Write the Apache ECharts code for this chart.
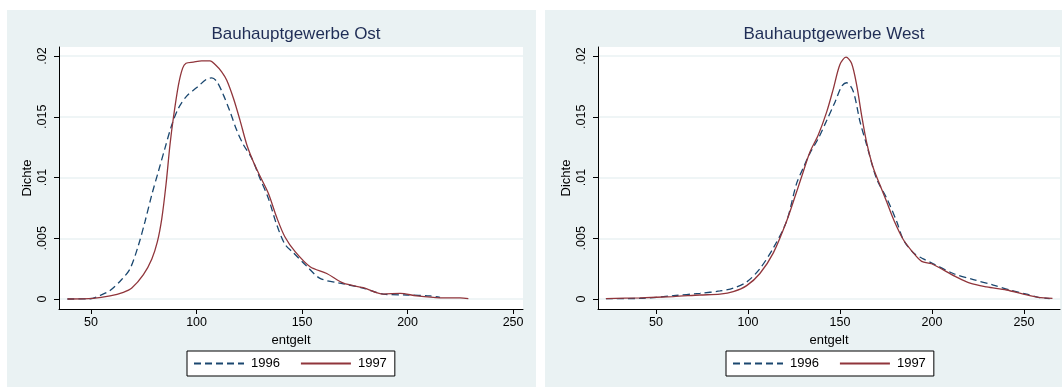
<!DOCTYPE html>
<html><head><meta charset="utf-8">
<script src="https://cdn.jsdelivr.net/npm/echarts@6/dist/echarts.min.js"></script>
<style>html,body{margin:0;padding:0;background:#fff}#c{width:1062px;height:387px}</style>
</head><body><div id="c"></div>
<script>
const titles = ['Bauhauptgewerbe Ost', 'Bauhauptgewerbe West'];
const seriesNames = ['1996', '1997'];
const xTicks = [50, 100, 150, 200, 250];
const yTicks = [0, 0.005, 0.01, 0.015, 0.02];
const yTickLabels = ['0', '.005', '.01', '.015', '.02'];
const xName = 'entgelt';
const yName = 'Dichte';

// Ost 1996
const ost96X = [38.8, 49.5, 54.3, 59, 64.5, 68.5, 72.4, 75.6, 78.8, 81.9, 85, 88.2, 91.4, 95.3, 100.1, 104.8, 107.2, 109.6, 112.7, 115.9, 119, 122.2, 126.1, 130.1, 134, 138, 141.9, 145.9, 152.2, 158.5, 168, 179, 188.5, 199.6, 210.7, 215.4];
const ost96Y = [0, 0.00002, 0.0003, 0.0007, 0.0016, 0.0025, 0.0044, 0.0064, 0.0086, 0.0105, 0.0124, 0.0143, 0.0157, 0.0167, 0.0174, 0.0181, 0.0182, 0.0179, 0.0168, 0.0154, 0.0139, 0.0127, 0.0116, 0.0099, 0.0083, 0.0061, 0.0045, 0.0038, 0.0027, 0.0017, 0.0013, 0.0009, 0.0004, 0.00033, 0.00025, 0.00014];
// Ost 1997
const ost97X = [38.8, 51, 59, 65.3, 69.3, 74.8, 78.8, 81.4, 83.5, 85.5, 87.4, 89, 91.4, 93.4, 95, 98.5, 102.4, 106.4, 108.8, 111.9, 114.3, 117.5, 120.6, 123.8, 126.9, 130.1, 134, 138, 141.9, 146.7, 153.8, 161.7, 169.6, 179, 188.5, 196.5, 204.3, 215.4, 224.9, 228.8];
const ost97Y = [0, 0.00005, 0.00025, 0.00055, 0.0009, 0.002, 0.0033, 0.0047, 0.0066, 0.0094, 0.0127, 0.0149, 0.0176, 0.019, 0.0194, 0.0195, 0.0196, 0.0196, 0.0193, 0.0187, 0.018, 0.0165, 0.0147, 0.0127, 0.0113, 0.0101, 0.0087, 0.0067, 0.0051, 0.0039, 0.00266, 0.0021, 0.0013, 0.00093, 0.0004, 0.00047, 0.00025, 0.0001, 0.0001, 0.00003];
// West 1996
const west96X = [22.8, 41.3, 59.4, 73.9, 84.8, 92, 99.3, 106.5, 113.8, 121, 126.4, 130.1, 133.7, 138.2, 142.8, 147.3, 150.9, 153.6, 157.2, 160.9, 164.5, 169.9, 175.4, 180.8, 184.4, 189.9, 195.3, 200.7, 211.6, 222.5, 233.3, 242.4, 251.4, 257.8, 264];
const west96Y = [0.00003, 0.00005, 0.00027, 0.00047, 0.00066, 0.0009, 0.0014, 0.0025, 0.0042, 0.0064, 0.0095, 0.0108, 0.012, 0.0132, 0.0147, 0.0162, 0.0175, 0.0178, 0.0171, 0.0146, 0.0127, 0.0099, 0.0083, 0.0064, 0.0049, 0.0038, 0.0033, 0.0029, 0.0021, 0.0016, 0.00115, 0.00074, 0.0004, 0.00014, 0.00003];
// West 1997
const west97X = [22.8, 41.3, 59.4, 73.9, 84.8, 92, 99.3, 106.5, 113.8, 121, 126.4, 130.1, 133.7, 138.2, 142.8, 146.4, 150, 153.3, 156.3, 159.1, 161.8, 164.5, 168.1, 171.7, 175.4, 179, 184.4, 189.9, 194.4, 199.8, 206.2, 213.4, 220.7, 229.7, 240.6, 249.7, 257.8, 265.5];
const west97Y = [0.00003, 0.0001, 0.0002, 0.00033, 0.0004, 0.0006, 0.0011, 0.0021, 0.0038, 0.0064, 0.0088, 0.0105, 0.0121, 0.0135, 0.0154, 0.0173, 0.0193, 0.0199, 0.0194, 0.0176, 0.0151, 0.0129, 0.0108, 0.0094, 0.008, 0.0066, 0.0049, 0.0038, 0.0031, 0.0029, 0.0024, 0.0018, 0.0013, 0.001, 0.00074, 0.0004, 0.00014, 0.00005];

const zip = (xs, ys) => xs.map((x, i) => [x, ys[i]]);

const FONT = '"Liberation Sans", Arial, Helvetica, sans-serif';
const BG = '#eaf2f3';
const C96 = '#1a476f';
const C97 = '#90353b';

const panels = [
  {grid: {left: 59, top: 47, width: 464, height: 262}, xr: [34.8, 254.7], cx: 291, legendLeft: 187, d96: zip(ost96X, ost96Y), d97: zip(ost97X, ost97Y)},
  {grid: {left: 598, top: 47, width: 462, height: 262}, xr: [18.5, 269.6], cx: 829, legendLeft: 726, d96: zip(west96X, west96Y), d97: zip(west97X, west97Y)}
];

const yMin = -0.000823, yMax = 0.020741;

const option = {
  animation: false,
  backgroundColor: '#fff',
  textStyle: {fontFamily: FONT},
  graphic: [
    {type: 'rect', shape: {x: 7, y: 10, width: 529, height: 390}, style: {fill: BG}, z: -10, silent: true},
    {type: 'rect', shape: {x: 545, y: 10, width: 530, height: 390}, style: {fill: BG}, z: -10, silent: true}
  ],
  title: panels.map((p, i) => ({
    text: titles[i], left: p.cx, top: 21, textAlign: 'center',
    textStyle: {fontFamily: FONT, fontSize: 17, fontWeight: 'normal', color: '#1f2d55'}
  })),
  legend: panels.map((p, i) => ({
    data: seriesNames.map(n => ({name: n})),
    left: p.legendLeft, top: 351, orient: 'horizontal',
    backgroundColor: '#fff', borderColor: '#000', borderWidth: 1, borderRadius: 0,
    padding: [6, 8, 6, 6], itemWidth: 50, itemHeight: 14, itemGap: 20,
    itemStyle: {opacity: 0, borderWidth: 0},
    textStyle: {fontFamily: FONT, fontSize: 13, color: '#000', padding: [0, 0, 0, 2]},
    selectedMode: false
  })),
  grid: panels.map(p => Object.assign({show: true, backgroundColor: '#fff', borderWidth: 0, containLabel: false}, p.grid)),
  xAxis: panels.map((p, i) => ({
    type: 'value', gridIndex: i, min: p.xr[0], max: p.xr[1],
    name: xName, nameLocation: 'middle', nameGap: 20,
    nameTextStyle: {fontFamily: FONT, fontSize: 13, color: '#000'},
    axisLine: {show: true, onZero: false, lineStyle: {color: '#000', width: 1}},
    axisTick: {show: true, length: 5, customValues: xTicks, lineStyle: {color: '#000'}},
    axisLabel: {customValues: xTicks, margin: 7, fontFamily: FONT, fontSize: 12.5, color: '#000'},
    splitLine: {show: false}
  })),
  yAxis: panels.map((p, i) => ({
    type: 'value', gridIndex: i, min: yMin, max: yMax,
    name: yName, nameLocation: 'middle', nameGap: 25, nameRotate: 90,
    nameTextStyle: {fontFamily: FONT, fontSize: 13, color: '#000'},
    axisLine: {show: true, onZero: false, lineStyle: {color: '#000', width: 1}},
    axisTick: {show: true, length: 5, customValues: yTicks, lineStyle: {color: '#000'}},
    axisLabel: {customValues: yTicks, rotate: 90, margin: 10, fontFamily: FONT, fontSize: 12.5, color: '#000',
      formatter: v => { const k = yTicks.findIndex(t => Math.abs(t - v) < 1e-9); return k >= 0 ? yTickLabels[k] : ''; }},
    splitLine: {show: true, lineStyle: {color: BG, width: 1.5}}
  })),
  series: panels.flatMap((p, i) => [
    {name: seriesNames[0], type: 'line', xAxisIndex: i, yAxisIndex: i, data: p.d96, symbol: 'none', smooth: 0.3,
      lineStyle: {color: C96, width: 1.3, type: [7, 4]}, itemStyle: {color: C96}, z: 3},
    {name: seriesNames[1], type: 'line', xAxisIndex: i, yAxisIndex: i, data: p.d97, symbol: 'none', smooth: 0.3,
      lineStyle: {color: C97, width: 1.3}, itemStyle: {color: C97}, z: 4}
  ])
};

const chart = echarts.init(document.getElementById('c'), null, {renderer: 'canvas'});
chart.setOption(option);
</script>
</body></html>
